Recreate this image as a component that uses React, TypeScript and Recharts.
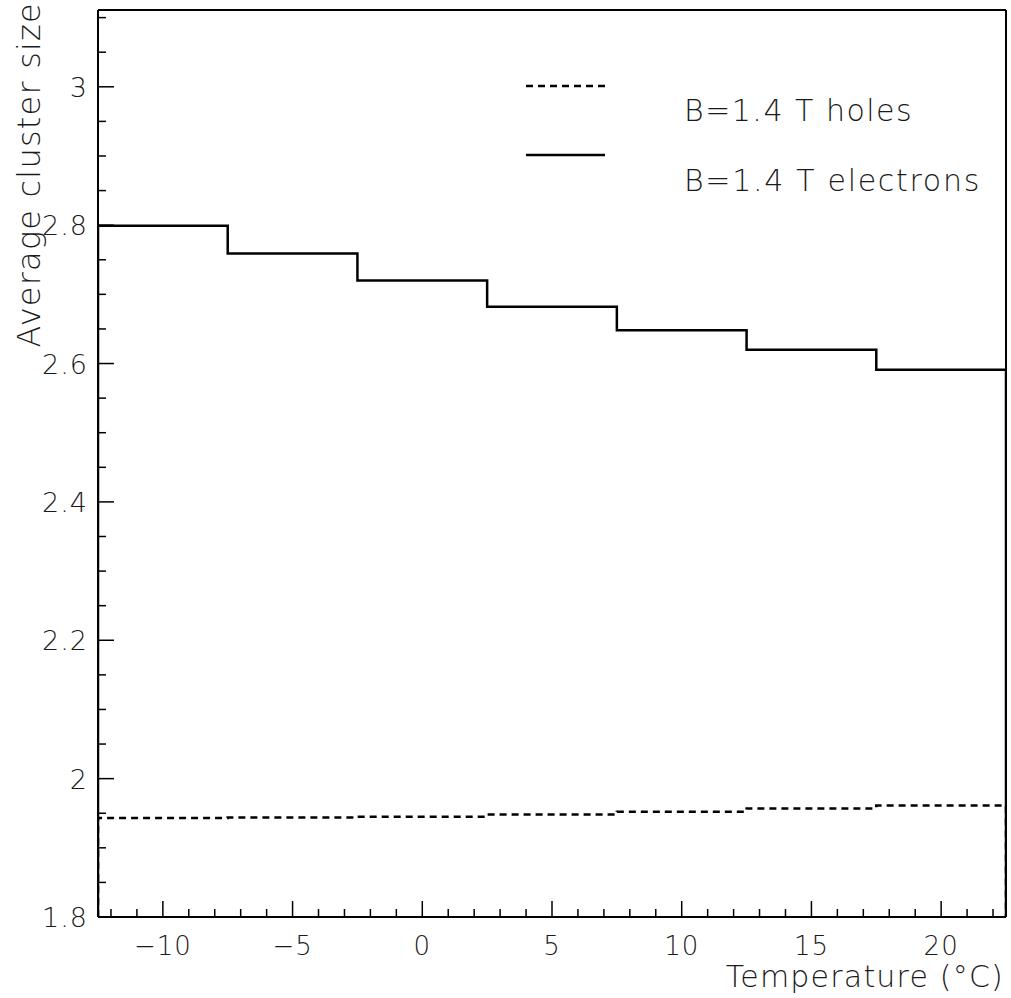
import React from "react";
import {
  LineChart,
  Line,
  XAxis,
  YAxis,
  ReferenceLine,
} from "recharts";

// bin edges in °C, one value per bin
const binEdges = [-12.5, -7.5, -2.5, 2.5, 7.5, 12.5, 17.5, 22.5];
const electrons = [2.799, 2.759, 2.72, 2.682, 2.648, 2.62, 2.591];
const holes = [1.943, 1.944, 1.945, 1.948, 1.952, 1.957, 1.961];

const yMin = 1.8;
const yMax = 3.111;
const xTicks = Array.from({ length: 35 }, (_, i) => i - 12);
const yTicks = Array.from({ length: 27 }, (_, i) => Math.round((1.8 + i * 0.05) * 100) / 100);

const FONT = "'DejaVu Sans Light', 'DejaVu Sans ExtraLight', 'DejaVu Sans', sans-serif";
const INK = "#1a1a1a";

// histogram outline: up from the baseline, one step per bin, down at the end
const rows = [
  { t: binEdges[0], e: yMin, h: yMin },
  ...electrons.map((v, i) => ({ t: binEdges[i], e: v, h: holes[i] })),
  { t: binEdges[binEdges.length - 1], e: electrons[electrons.length - 1], h: holes[holes.length - 1] },
  { t: binEdges[binEdges.length - 1], e: yMin, h: yMin },
];

const fmtX = (v: number) => (v < 0 ? `\u2212${-v}` : `${v}`);

const XTick = (props: any) => {
  const { x, y, payload } = props;
  const v = payload.value as number;
  const major = v % 5 === 0;
  return (
    <g>
      <line x1={x} x2={x} y1={y} y2={y - (major ? 16 : 8)} stroke="#000" strokeWidth={1.5} />
      {major && (
        <text x={x} y={y + 38} textAnchor="middle" fontSize={26} fontFamily={FONT} fontWeight={200} fill={INK} letterSpacing={1}>
          {fmtX(v)}
        </text>
      )}
    </g>
  );
};

const YTick = (props: any) => {
  const { x, y, payload } = props;
  const v = payload.value as number;
  const major = Math.abs(v * 5 - Math.round(v * 5)) < 1e-6;
  return (
    <g>
      <line x1={x} x2={x + (major ? 16 : 8)} y1={y} y2={y} stroke="#000" strokeWidth={1.5} />
      {major && (
        <text x={x - 10} y={y + 10} textAnchor="end" fontSize={27} fontFamily={FONT} fontWeight={200} fill={INK} letterSpacing={1}>
          {String(v)}
        </text>
      )}
    </g>
  );
};

export default function App() {
  return (
    <div style={{ position: "absolute", left: 0, top: 0, width: 1011, height: 998, background: "#fff" }}>
      <LineChart width={1011} height={998} data={rows} margin={{ top: 10, right: 5, left: 0, bottom: 0 }}>
        <XAxis
          dataKey="t"
          type="number"
          domain={[binEdges[0], binEdges[binEdges.length - 1]]}
          ticks={xTicks}
          interval={0}
          tick={<XTick />}
          tickLine={false}
          tickSize={0}
          tickMargin={0}
          height={81}
          axisLine={{ stroke: "#000", strokeWidth: 2 }}
          allowDataOverflow
        />
        <YAxis
          type="number"
          domain={[yMin, yMax]}
          ticks={yTicks}
          interval={0}
          tick={<YTick />}
          tickLine={false}
          tickSize={0}
          tickMargin={0}
          width={98}
          axisLine={{ stroke: "#000", strokeWidth: 2 }}
          allowDataOverflow
        />
        <ReferenceLine x={binEdges[binEdges.length - 1]} stroke="#000" strokeWidth={2} />
        <ReferenceLine y={yMax} stroke="#000" strokeWidth={2} />
        <Line
          type="stepAfter"
          dataKey="h"
          stroke="#000"
          strokeWidth={2.5}
          strokeDasharray="7 5"
          dot={false}
          activeDot={false}
          isAnimationActive={false}
        />
        <Line
          type="stepAfter"
          dataKey="e"
          stroke="#000"
          strokeWidth={2.5}
          dot={false}
          activeDot={false}
          isAnimationActive={false}
        />
      </LineChart>
      <svg
        width={1011}
        height={998}
        style={{ position: "absolute", left: 0, top: 0, pointerEvents: "none" }}
      >
        <line x1={526} x2={605} y1={86} y2={86} stroke="#000" strokeWidth={2.5} strokeDasharray="7 5" />
        <line x1={526} x2={605} y1={155} y2={155} stroke="#000" strokeWidth={2.5} />
        <text x={684} y={121} fontSize={30} fontFamily={FONT} fontWeight={200} fill={INK} letterSpacing={1.5}>
          B=1.4 T holes
        </text>
        <text x={684} y={191} fontSize={30} fontFamily={FONT} fontWeight={200} fill={INK} letterSpacing={1.7}>
          B=1.4 T electrons
        </text>
        <text x={1004} y={987} textAnchor="end" fontSize={30} fontFamily={FONT} fontWeight={200} fill={INK} letterSpacing={1.2}>
          Temperature (°C)
        </text>
        <text
          transform="translate(40,2) rotate(-90)"
          textAnchor="end"
          fontSize={32}
          fontFamily={FONT}
          fontWeight={200}
          fill={INK}
          letterSpacing={1.2}
        >
          Average cluster size
        </text>
      </svg>
    </div>
  );
}
